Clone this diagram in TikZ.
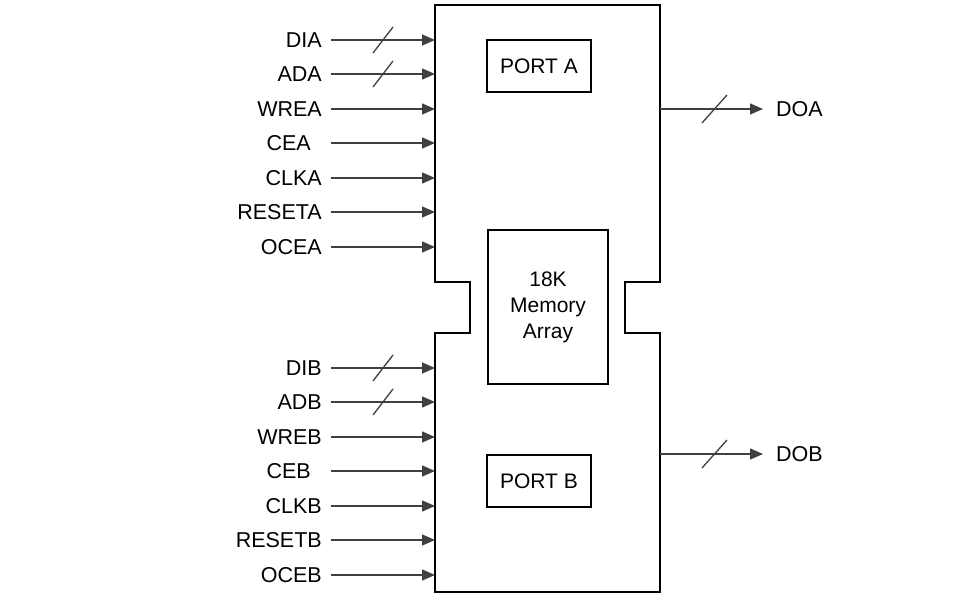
\documentclass[tikz,border=0pt]{standalone}
\usepackage{fontspec}
\setmainfont{Liberation Sans}
\usetikzlibrary{arrows.meta}
\begin{document}
\begin{tikzpicture}[x=1pt,y=-1pt,
  sig/.style={draw=black!75,line width=1.4pt,-{Triangle[length=13pt,width=11pt]}},
  lbl/.style={anchor=east,font=\fontsize{21.5}{24}\selectfont,inner sep=0pt},
  olbl/.style={anchor=west,font=\fontsize{21.5}{24}\selectfont,inner sep=0pt},
  box/.style={draw=black,line width=1.3pt,font=\fontsize{21}{26}\selectfont,align=center,inner sep=0pt},
  bus/.style={draw=black!75,line width=1.3pt}]
\useasboundingbox (0,0) rectangle (966,604);
% outline
\draw[line width=1.4pt] (435,5) -- (660,5) -- (660,282) -- (625,282) -- (625,333) -- (660,333)
  -- (660,592) -- (435,592) -- (435,333) -- (470,333) -- (470,282) -- (435,282) -- cycle;
\node[box,minimum width=104pt,minimum height=52pt] (pa) at (539,66) {PORT A};
\node[box,minimum width=104pt,minimum height=52pt] (pb) at (539,481) {PORT B};
\node[box,minimum width=120pt,minimum height=154pt] (mem) at (548,307) {18K\\Memory\\Array};
% left inputs
\foreach \n/\t/\y/\lx in {dia/DIA/40/322, ada/ADA/74/322, wrea/WREA/109/322, cea/CEA/143/311,
  clka/CLKA/178/322, reseta/RESETA/212/322, ocea/OCEA/247/322,
  dib/DIB/368/322, adb/ADB/402/322, wreb/WREB/437/322, ceb/CEB/471/311,
  clkb/CLKB/506/322, resetb/RESETB/540/322, oceb/OCEB/575/322}{
  \node[lbl] (\n) at (\lx,\y) {\t};
  \coordinate (\n s) at (331,\y);
  \coordinate (\n e) at (435,\y);
  \draw[sig] (\n s) -- (\n e);
}
% bus slashes
\foreach \n in {dia,ada,dib,adb}{
  \draw[bus] ([shift={(-10,13)}]\n s -| 383,0) -- ([shift={(10,-13)}]\n s -| 383,0);
}
% outputs
\node[olbl] (doa) at (776,109) {DOA};
\node[olbl] (dob) at (776,454) {DOB};
\coordinate (doas) at (660,109);
\coordinate (dobs) at (660,454);
\draw[sig] (doas) -- ([xshift=-13pt]doa.west);
\draw[sig] (dobs) -- ([xshift=-13pt]dob.west);
\draw[bus] (702,123) -- (727,95);
\draw[bus] (702,468) -- (727,440);
\end{tikzpicture}
\end{document}
